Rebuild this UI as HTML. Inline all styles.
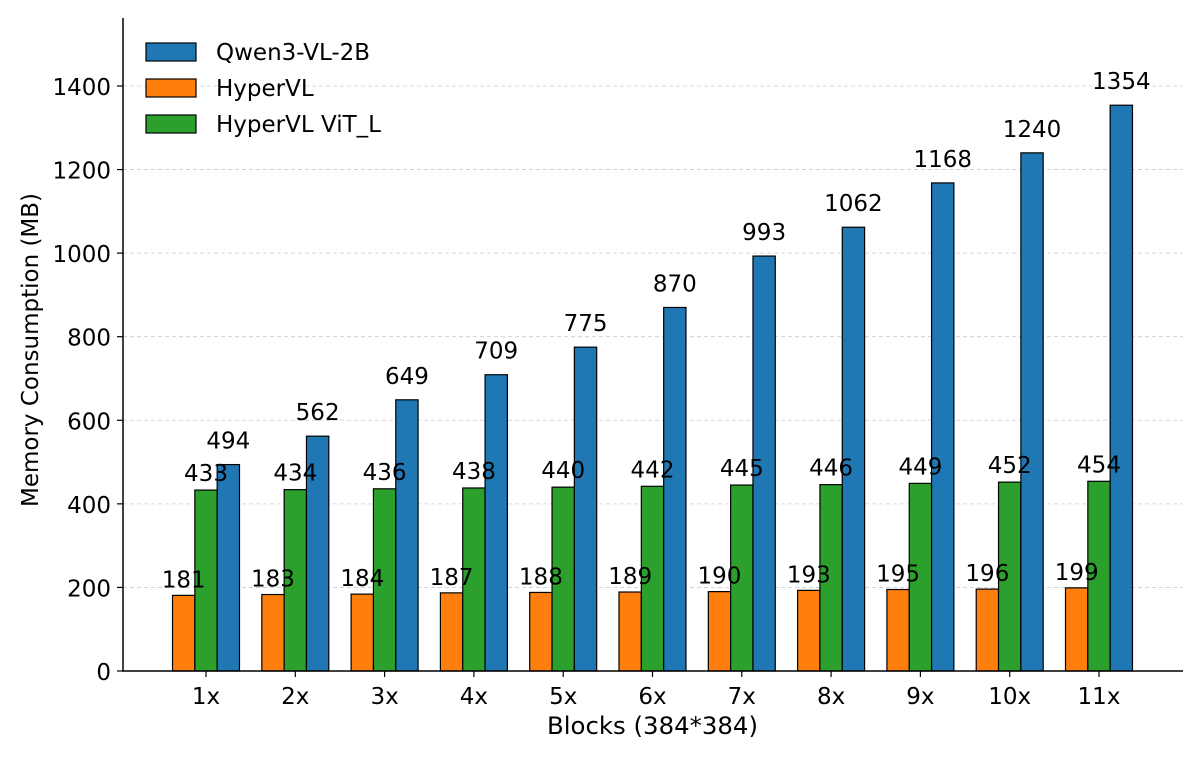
<!DOCTYPE html>
<html><head><meta charset="utf-8"><style>
html,body{margin:0;padding:0;background:#fff}
svg text{font-family:"DejaVu Sans","Liberation Sans",sans-serif;fill:#000}
</style></head><body>
<svg id="chart" width="1200" height="758" viewBox="0 0 1200 758" xmlns="http://www.w3.org/2000/svg">
<g id="grid"></g>
<g id="bars"></g>
<g id="labels"></g>
<g id="axes"></g>
<g>
<rect x="146" y="43" width="50" height="18" fill="#1f77b4" stroke="#000" stroke-width="1.2"/>
<text x="216" y="60" font-size="23">Qwen3-VL-2B</text>
<rect x="146" y="79" width="50" height="18" fill="#ff7f0e" stroke="#000" stroke-width="1.2"/>
<text x="216" y="96" font-size="23">HyperVL</text>
<rect x="146" y="115" width="50" height="18" fill="#2ca02c" stroke="#000" stroke-width="1.2"/>
<text x="216" y="132" font-size="23">HyperVL ViT_L</text>
</g>
<text x="547" y="734" font-size="24" textLength="211" lengthAdjust="spacingAndGlyphs">Blocks (384*384)</text>
<text transform="translate(38,350) rotate(-90)" font-size="23" text-anchor="middle">Memory Consumption (MB)</text>
</svg>
<script>
const categories = ["1x","2x","3x","4x","5x","6x","7x","8x","9x","10x","11x"];
const qwen = [494,562,649,709,775,870,993,1062,1168,1240,1354];
const hypervl = [181,183,184,187,188,189,190,193,195,196,199];
const vitl = [433,434,436,438,440,442,445,446,449,452,454];
const yTicks = [0,200,400,600,800,1000,1200,1400];

const NS="http://www.w3.org/2000/svg";
const y0=671, pxPer=0.41786;
const yS=v=>y0-v*pxPer;
const x0=206, step=89.3;
const xS=i=>x0+i*step;
const bw=step*0.25;
function mk(tag,attrs,parent){const e=document.createElementNS(NS,tag);for(const k in attrs)e.setAttribute(k,attrs[k]);parent.appendChild(e);return e;}
const grid=document.getElementById('grid'),bars=document.getElementById('bars'),labels=document.getElementById('labels'),axes=document.getElementById('axes');

yTicks.forEach(t=>{
  if(t>0){const g=mk('line',{x1:123,x2:1183,y1:yS(t),y2:yS(t),stroke:'#cccccc','stroke-width':0.8,'stroke-dasharray':'4,3'},grid);
  
  }
  const tk=mk('line',{x1:117,x2:123,y1:yS(t),y2:yS(t),stroke:'#000','stroke-width':1.2},axes);
  
  
  const tl=mk('text',{x:111,y:yS(t)+9,'font-size':23,'text-anchor':'end'},axes);
  tl.textContent=t;
  
  
});

const series=[{d:hypervl,c:'#ff7f0e',off:-1,lo:8,n:'hypervl'},{d:vitl,c:'#2ca02c',off:0,lo:9,n:'vitl'},{d:qwen,c:'#1f77b4',off:1,lo:16,n:'qwen'}];
categories.forEach((cat,i)=>{
  series.forEach(s=>{
    const cx=xS(i)+s.off*bw, v=s.d[i];
    const r=mk('rect',{x:cx-bw/2,y:yS(v),width:bw,height:y0-yS(v),fill:s.c,stroke:'#000','stroke-width':1.2},bars);
    
    
    const l=mk('text',{x:cx,y:yS(v)-s.lo,'font-size':23,'text-anchor':'middle'},labels);
    l.textContent=v;
    
    
  });
  const tk=mk('line',{x1:xS(i),x2:xS(i),y1:671,y2:677,stroke:'#000','stroke-width':1.2},axes);
  
  
  const tl=mk('text',{x:xS(i),y:704,'font-size':23,'text-anchor':'middle'},axes);
  tl.textContent=cat;
  
  
});
const ya=mk('line',{x1:123,x2:123,y1:18,y2:671,stroke:'#000','stroke-width':1.5},axes);


const xa=mk('line',{x1:122,x2:1183,y1:671,y2:671,stroke:'#000','stroke-width':1.5},axes);


</script>
</body></html>
